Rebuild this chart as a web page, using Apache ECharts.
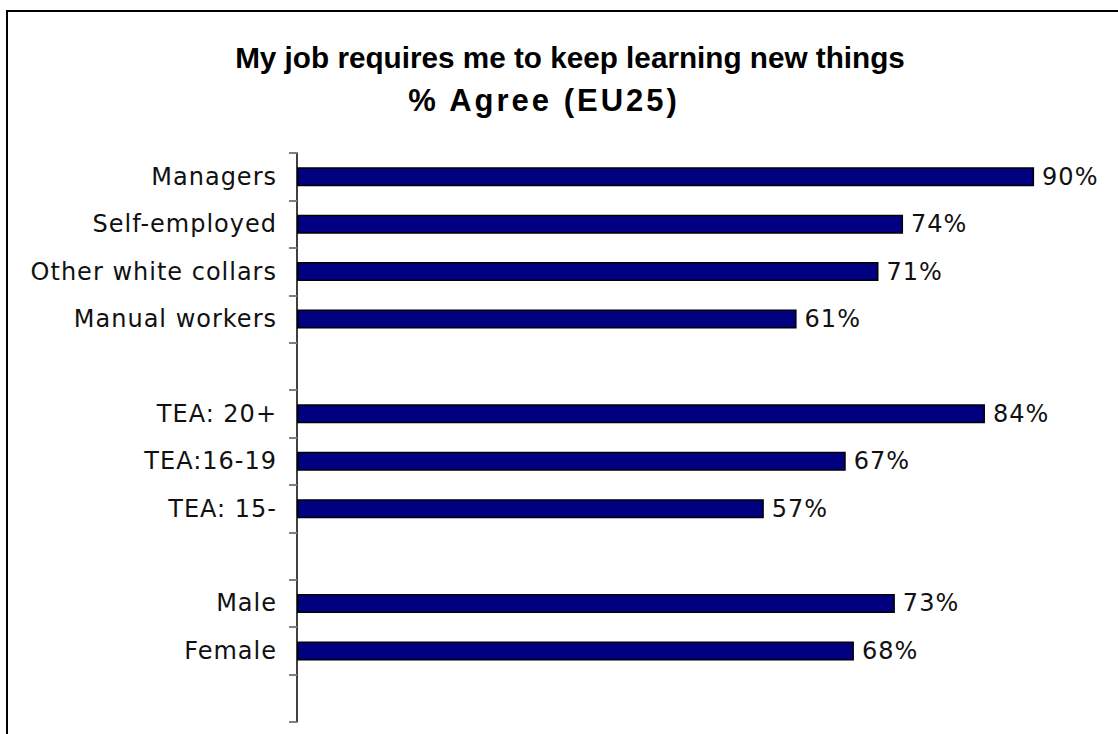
<!DOCTYPE html>
<html>
<head>
<meta charset="utf-8">
<script src="https://cdn.jsdelivr.net/npm/echarts@6.0.0/dist/echarts.min.js"></script>
<style>
  html, body { margin: 0; padding: 0; background: #fff; }
  #chart { width: 1118px; height: 734px; }
  /* slight tracking for axis and value labels, none for the first title line */
  #chart svg text { letter-spacing: 1px; }
  #chart svg text[style*="bold"] { letter-spacing: 0; }
  #chart svg text[fill="#010101"] { letter-spacing: 3px; }
</style>
</head>
<body>
<div id="chart"></div>
<script>
// Groups are separated by empty rows ('' category, '-' value)
const categories = [
  'Managers', 'Self-employed', 'Other white collars', 'Manual workers', '',
  'TEA: 20+', 'TEA:16-19', 'TEA: 15-', '',
  'Male', 'Female', ''
];
const agreeValues = [90, 74, 71, 61, '-', 84, 67, 57, '-', 73, 68, '-'];
const titleLine1 = 'My job requires me to keep learning new things';
const titleLine2 = '% Agree (EU25)';

const labelFont = '"DejaVu Sans", Verdana, sans-serif';

const chart = echarts.init(document.getElementById('chart'), null, { renderer: 'svg' });

chart.setOption({
  animation: false,
  backgroundColor: '#ffffff',
  graphic: [
    {
      type: 'rect',
      shape: { x: 7, y: 11, width: 1300, height: 900 },
      style: { fill: 'none', stroke: '#000', lineWidth: 2 },
      silent: true
    },
    {
      type: 'text',
      x: 570, y: 57,
      style: {
        text: titleLine1,
        font: 'bold 29.7px "Liberation Sans", Arial, sans-serif',
        fill: '#000',
        textAlign: 'center',
        textVerticalAlign: 'middle'
      }
    },
    {
      type: 'text',
      x: 544, y: 100,
      style: {
        text: titleLine2,
        font: 'bold 31px "Liberation Sans", Arial, sans-serif',
        fill: '#010101',
        textAlign: 'center',
        textVerticalAlign: 'middle'
      }
    }
  ],
  grid: { left: 297, right: 2, top: 153, bottom: 12, containLabel: false },
  xAxis: {
    type: 'value',
    min: 0,
    max: 100,
    show: false
  },
  yAxis: {
    type: 'category',
    data: categories,
    inverse: true,
    axisLine: { show: true, lineStyle: { color: '#000', width: 1.5 } },
    axisTick: { show: true, length: 8, lineStyle: { color: '#808080', width: 2 } },
    axisLabel: {
      color: '#111',
      fontFamily: labelFont,
      fontSize: 24,
      margin: 20
    },
    splitLine: { show: false }
  },
  series: [
    {
      type: 'bar',
      data: agreeValues,
      barWidth: 19,
      itemStyle: { color: '#000080', borderColor: '#000', borderWidth: 1.5 },
      label: {
        show: true,
        position: 'right',
        distance: 8,
        formatter: p => p.value + '%',
        color: '#111',
        fontFamily: labelFont,
        fontSize: 24
      }
    }
  ]
});
</script>
</body>
</html>
